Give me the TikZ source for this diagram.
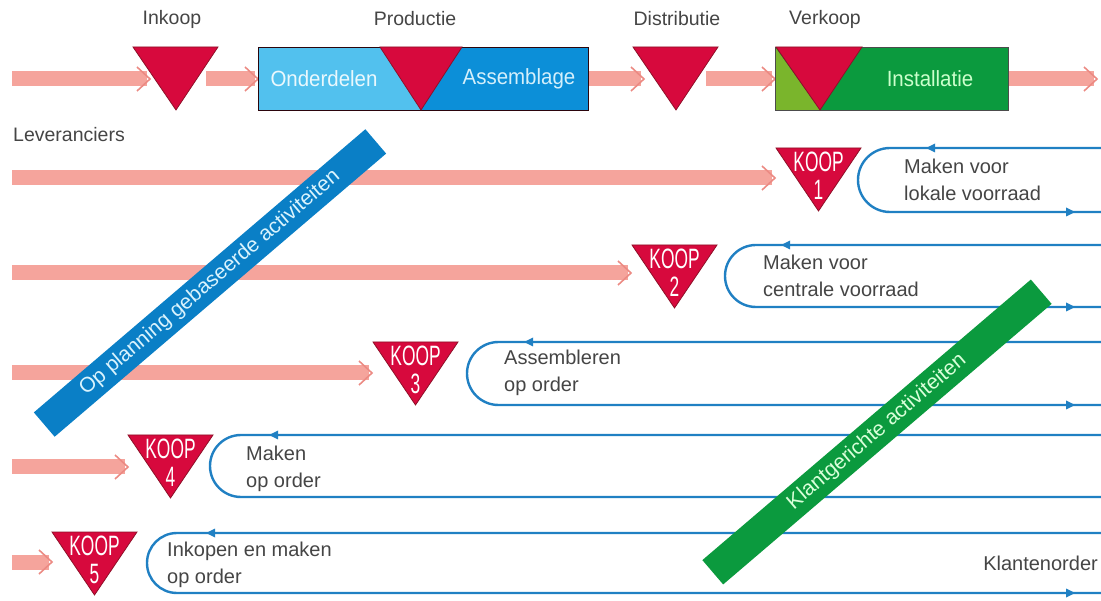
\documentclass[tikz,border=0pt]{standalone}
\usepackage{fontspec}
\setmainfont{Liberation Sans}
\newfontfamily\koopfont{Liberation Sans}[FakeStretch=0.62]
\newfontfamily\boxfont{Liberation Sans}[FakeStretch=0.93]
\usetikzlibrary{calc}
\definecolor{pinkf}{HTML}{F5A49C}
\definecolor{pinkd}{HTML}{EC8A83}
\definecolor{koopred}{HTML}{D7093D}
\definecolor{kooprim}{HTML}{8E1028}
\definecolor{lblue}{HTML}{52C1EE}
\definecolor{dblue}{HTML}{0C8FD8}
\definecolor{bandblue}{HTML}{0A7FC6}
\definecolor{dgreen}{HTML}{0B9A3E}
\definecolor{lgreen}{HTML}{7AB52C}
\definecolor{loopblue}{HTML}{2080C3}
\definecolor{txt}{HTML}{454545}
\tikzset{
  lbl/.style={font=\fontsize{19.5}{22}\selectfont, text=txt, inner sep=0pt},
  looptext/.style={font=\fontsize{20}{26.5}\selectfont, text=txt, align=left, anchor=west, inner sep=0pt},
  kooptxt/.style={font=\koopfont\fontsize{28}{28}\selectfont, text=white, align=center, inner sep=0pt},
  boxtxt/.style={font=\boxfont\fontsize{22}{24}\selectfont, inner sep=0pt},
  loopline/.style={draw=loopblue, line width=2.4pt},
  band/.style={minimum height=32pt, inner sep=0pt, rotate=40.5, font=\fontsize{21}{22}\selectfont},
  redtri/.style={fill=koopred, draw=kooprim, line width=0.8pt, line join=miter},
  pinkband/.style={fill=pinkf},
  pinkhead/.style={draw=pinkd, line width=1.6pt, line join=miter},
  bluetip/.style={fill=loopblue},
}
% fat pink arrow between two named coordinates
\newcommand\pinkarrow[2]{%
  \fill[pinkband] ($(#1)+(0,-7.5)$) rectangle ($(#2)+(-3,7.5)$);
  \draw[pinkhead] ($(#2)+(-13,-12)$) -- (#2) -- ($(#2)+(-13,12)$);
}
% red inverted triangle: name, left x, top y, text
\newcommand\redtriangle[4]{%
  \fill[redtri] (#2,#3) -- (#2+85,#3) -- (#2+42.5,#3+63) -- cycle;
  \node[kooptxt] (#1) at (#2+42.5,#3+28) {#4};
}
% loop: top y, bottom y, left x
\newcommand\looppath[3]{%
  \draw[loopline] (1101,#1) -- ({#3+(#2-#1)/2},#1) arc[start angle=90,end angle=270,radius={(#2-#1)/2*1pt}] -- (1101,#2);
}
\newcommand\tipleft[2]{\fill[bluetip] (#1,#2) -- (#1+9,#2-4.5) -- (#1+9,#2+4.5) -- cycle;}
\newcommand\tipright[2]{\fill[bluetip] (#1,#2) -- (#1-9,#2-4.5) -- (#1-9,#2+4.5) -- cycle;}
\begin{document}
\begin{tikzpicture}[x=1pt,y=-1pt]
\useasboundingbox (0,0) rectangle (1101,601);
\fill[white] (0,0) rectangle (1101,601);

% ---------- top row ----------
\node[lbl] (inkoop) at (172,19) {Inkoop};
\node[lbl] (productie) at (415,19) {Productie};
\node[lbl] (distributie) at (677,19) {Distributie};
\node[lbl] (verkoop) at (825,19) {Verkoop};

\coordinate (t0) at (12,79);
\coordinate (t1) at (150,79);
\coordinate (t2) at (206,79);
\coordinate (t3) at (258,79);
\coordinate (t4) at (586,79);
\coordinate (t5) at (644,79);
\coordinate (t6) at (706,79);
\coordinate (t7) at (775,79);
\coordinate (t8) at (1006,79);
\coordinate (t9) at (1097,79);
\pinkarrow{t0}{t1}
\pinkarrow{t2}{t3}
\pinkarrow{t4}{t5}
\pinkarrow{t6}{t7}
\pinkarrow{t8}{t9}

% Productie box
\fill[lblue] (258,47) rectangle (421,110);
\fill[dblue] (421,47) rectangle (588,110);
\draw[kooprim!30!black, line width=0.8pt] (258,47) rectangle (588,110);
\fill[redtri] (380,47) -- (462,47) -- (421,110) -- cycle;
\node[boxtxt, text=white!88!lblue] (onderdelen) at (324,79) {Onderdelen};
\node[boxtxt, text=white!75!lblue] (assemblage) at (519,79) {Assemblage};

% Verkoop box
\fill[dgreen] (775,47) rectangle (1008,110);
\fill[lgreen] (775,47) -- (820,110) -- (775,110) -- cycle;
\draw[black!70, line width=0.8pt] (775,47) rectangle (1008,110);
\fill[redtri] (776,47) -- (862,47) -- (820,110) -- cycle;
\node[boxtxt, text=green!20!white] (installatie) at (930,79) {Installatie};

% Inkoop / Distributie triangles
\fill[redtri] (133,47) -- (218,47) -- (176,110) -- cycle;
\fill[redtri] (633,47) -- (718,47) -- (676,110) -- cycle;

\node[lbl, anchor=west] (lev) at (13,135) {Leveranciers};

% ---------- rows ----------
\coordinate (r1s) at (12,178);  \coordinate (r1e) at (775,178);
\coordinate (r2s) at (12,273);  \coordinate (r2e) at (631,273);
\coordinate (r3s) at (12,373);  \coordinate (r3e) at (372,373);
\coordinate (r4s) at (12,467);  \coordinate (r4e) at (128,467);
\coordinate (r5s) at (12,562);  \coordinate (r5e) at (52,562);
\pinkarrow{r1s}{r1e}
\pinkarrow{r2s}{r2e}
\pinkarrow{r3s}{r3e}
\pinkarrow{r4s}{r4e}
\pinkarrow{r5s}{r5e}

% blue band (planning)
\node[band, fill=bandblue, minimum width=436pt, text=cyan!15!white] (plan) at (210,283) {Op planning gebaseerde activiteiten};

% loops
\looppath{148}{212}{858}
\looppath{245}{307}{725}
\looppath{342}{405}{467}
\looppath{435}{497}{210}
\looppath{533}{593}{147}
\tipleft{926}{148}
\tipleft{781}{245}
\tipleft{524}{342}
\tipleft{269}{435}
\tipleft{206}{533}
\tipright{1075}{212}
\tipright{1075}{307}
\tipright{1075}{405}
\tipright{1075}{593}

% KOOP triangles
\redtriangle{koop1}{776}{148}{KOOP\\1}
\redtriangle{koop2}{632}{245}{KOOP\\2}
\redtriangle{koop3}{373}{342}{KOOP\\3}
\redtriangle{koop4}{128}{435}{KOOP\\4}
\redtriangle{koop5}{52}{532}{KOOP\\5}

% loop texts
\node[looptext] (l1) at (904,180) {Maken voor\\lokale voorraad};
\node[looptext] (l2) at (763,276) {Maken voor\\centrale voorraad};
\node[looptext] (l3) at (504,373) {Assembleren\\op order};
\node[looptext] (l4) at (246,469) {Maken\\op order};
\node[looptext] (l5) at (167,565) {Inkopen en maken\\op order};
\node[lbl, anchor=east, font=\fontsize{20}{22}\selectfont] (klant) at (1098,563) {Klantenorder};

% green band (klantgericht)
\node[band, fill=dgreen, minimum width=432pt, text=green!15!white] (klantband) at (877,432) {Klantgerichte activiteiten};
\end{tikzpicture}
\end{document}
